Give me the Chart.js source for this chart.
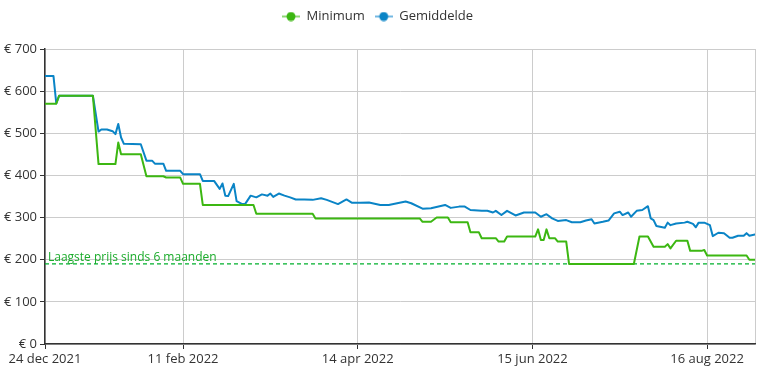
<!DOCTYPE html>
<html>
<head>
<meta charset="utf-8">
<script src="https://cdn.jsdelivr.net/npm/chart.js@4.4.1/dist/chart.umd.min.js"></script>
<style>
	html, body { margin: 0; padding: 0; background: #fff; }
	#wrap { width: 775px; height: 366px; }
</style>
</head>
<body>
<div id="wrap"><canvas id="priceChart"></canvas></div>
<script>
// days since 24 dec 2021
var minDays = [0, 4, 5, 17, 19, 25, 26, 27, 34, 36, 42, 43, 48, 49, 55, 56, 74, 75, 95, 96,
	133, 134, 137, 139, 143, 144, 150, 151, 154, 155, 160, 161, 163, 164, 174, 175, 176, 177, 178, 179,
	181, 182, 185, 186, 209, 211, 214, 216, 220, 221, 222, 224, 228, 229, 233, 234, 235, 249, 250, 252];
var minPrices = [570, 570, 589, 589, 427, 427, 478, 450, 450, 398, 398, 395, 395, 380, 380, 330, 330, 309, 309, 298,
	298, 290, 290, 300, 300, 289, 289, 265, 265, 251, 251, 243, 243, 255, 255, 272, 247, 247, 272, 251,
	251, 243, 243, 190, 190, 255, 255, 231, 231, 237, 227, 245, 245, 221, 221, 223, 210, 210, 200, 200];

var avgDays = [0, 3, 4, 5, 17, 19, 20, 22, 24, 25, 26, 27, 28, 34, 36, 38, 39, 42, 43, 48,
	49, 55, 56, 60, 62, 63, 64, 65, 67, 68, 70, 71, 73, 75, 77, 79, 80, 81, 83, 85,
	87, 89, 92, 95, 98, 100, 104, 107, 109, 112, 115, 119, 122, 128, 130, 134, 137, 142, 144, 147,
	149, 151, 155, 157, 159, 160, 162, 164, 167, 170, 174, 176, 178, 180, 182, 185, 187, 190, 192, 194,
	195, 198, 200, 202, 204, 205, 207, 208, 210, 212, 214, 215, 216, 217, 220, 221, 222, 224, 227, 228,
	230, 231, 232, 234, 236, 237, 239, 241, 243, 244, 246, 248, 249, 250, 252];
var avgPrices = [636, 636, 571, 589, 589, 504, 509, 509, 505, 498, 522, 490, 475, 474, 435, 435, 428, 428, 411, 411,
	403, 403, 387, 387, 368, 381, 352, 351, 380, 339, 332, 332, 352, 348, 355, 352, 357, 349, 357, 352,
	348, 343, 343, 342, 346, 342, 332, 343, 335, 335, 336, 330, 330, 338, 334, 321, 322, 330, 323, 326,
	326, 318, 316, 316, 312, 316, 306, 316, 305, 312, 312, 302, 308, 298, 292, 294, 289, 289, 293, 296,
	286, 290, 293, 310, 314, 306, 312, 302, 316, 318, 327, 298, 294, 280, 276, 288, 282, 286, 288, 290,
	285, 277, 288, 288, 282, 256, 264, 263, 252, 252, 257, 257, 263, 257, 260];

var lowestPrice = 190;
var lowestLabel = 'Laagste prijs sinds 6 maanden';

var tickDays = [0, 49, 111, 173, 235, 252];
var tickLabels = ['24 dec 2021', '11 feb 2022', '14 apr 2022', '15 jun 2022', '16 aug 2022', ''];

var fontFamily = "'Open Sans', 'Noto Sans', sans-serif";

function toPoints(xs, ys) {
	var pts = [];
	for (var i = 0; i < xs.length; i++) {
		pts.push({ x: xs[i], y: ys[i] });
	}
	return pts;
}

// small legend marker: light line with a dark dot
function legendIcon(lineColor, dotColor) {
	var c = document.createElement('canvas');
	c.width = 18;
	c.height = 10;
	var g = c.getContext('2d');
	g.strokeStyle = lineColor;
	g.lineWidth = 2;
	g.beginPath();
	g.moveTo(0, 5);
	g.lineTo(18, 5);
	g.stroke();
	g.fillStyle = dotColor;
	g.beginPath();
	g.arc(9, 5, 4.5, 0, Math.PI * 2);
	g.fill();
	return c;
}

// extra room under the legend
var legendGap = {
	id: 'legendGap',
	beforeInit: function(chart) {
		var fit = chart.legend.fit;
		chart.legend.fit = function() {
			fit.bind(chart.legend)();
			this.height += 16;
		};
	}
};

var lowLabelPlugin = {
	id: 'lowLabel',
	afterDatasetsDraw: function(chart) {
		var ctx = chart.ctx;
		var y = chart.scales.y.getPixelForValue(lowestPrice);
		ctx.save();
		ctx.font = '12px ' + fontFamily;
		ctx.fillStyle = '#1aab2a';
		ctx.textBaseline = 'alphabetic';
		ctx.fillText(lowestLabel, chart.chartArea.left + 3, y - 3);
		ctx.restore();
	}
};

var chartdata = {
	datasets : [ {
		label : 'Minimum',
		data : toPoints(minDays, minPrices),
		borderColor : '#3cb712',
		backgroundColor : '#3cb712',
		pointStyle : legendIcon('#8fd676', '#3cb712'),
		borderWidth : 2,
		borderJoinStyle : 'round',
		borderCapStyle : 'round',
		pointRadius : 0,
		tension : 0
	}, {
		label : 'Gemiddelde',
		data : toPoints(avgDays, avgPrices),
		borderColor : '#0a84c6',
		backgroundColor : '#0a84c6',
		pointStyle : legendIcon('#74b8e2', '#0a84c6'),
		borderWidth : 2,
		borderJoinStyle : 'round',
		borderCapStyle : 'round',
		pointRadius : 0,
		tension : 0
	}, {
		label : 'lowest',
		data : toPoints([tickDays[0], tickDays[tickDays.length - 1]], [lowestPrice, lowestPrice]),
		borderColor : '#00b02c',
		backgroundColor : '#00b02c',
		borderWidth : 1.3,
		borderDash : [4, 3],
		pointRadius : 0
	} ]
};

new Chart(document.getElementById('priceChart'), {
	type : 'line',
	data : chartdata,
	plugins : [ legendGap, lowLabelPlugin ],
	options : {
		responsive : true,
		maintainAspectRatio : false,
		animation : false,
		layout : {
			padding : { top : 0, right : 20, left : 0, bottom : 0 }
		},
		plugins : {
			legend : {
				position : 'top',
				labels : {
					usePointStyle : true,
					pointStyleWidth : 18,
					color : '#333',
					font : { family : fontFamily, size : 13 },
					padding : 10,
					filter : function(item) {
						return item.datasetIndex < 2;
					}
				}
			},
			tooltip : { enabled : false }
		},
		scales : {
			x : {
				type : 'linear',
				min : tickDays[0],
				max : tickDays[tickDays.length - 1],
				afterBuildTicks : function(scale) {
					scale.ticks = tickDays.map(function(d) { return { value : d }; });
				},
				afterFit : function(scale) {
					scale.height = 22;
				},
				ticks : {
					autoSkip : false,
					maxRotation : 0,
					padding : 2,
					color : '#333',
					font : { family : fontFamily, size : 13 },
					callback : function(value) {
						var i = tickDays.indexOf(value);
						return i >= 0 ? tickLabels[i] : '';
					}
				},
				grid : {
					color : '#cccccc',
					tickLength : 5,
					tickColor : function(ctx) {
						return ctx.tick && ctx.tick.value === tickDays[tickDays.length - 1] ? 'rgba(0,0,0,0)' : '#333';
					}
				},
				border : { color : '#333', width : 1.5 }
			},
			y : {
				min : 0,
				max : 700,
				afterFit : function(scale) {
					scale.width = 45;
				},
				ticks : {
					stepSize : 100,
					padding : 3,
					color : '#333',
					font : { family : fontFamily, size : 13 },
					callback : function(value) {
						return '€ ' + value;
					}
				},
				grid : {
					color : '#cccccc',
					tickLength : 5,
					tickColor : '#333'
				},
				border : { color : '#333', width : 1.5 }
			}
		}
	}
});
</script>
</body>
</html>
